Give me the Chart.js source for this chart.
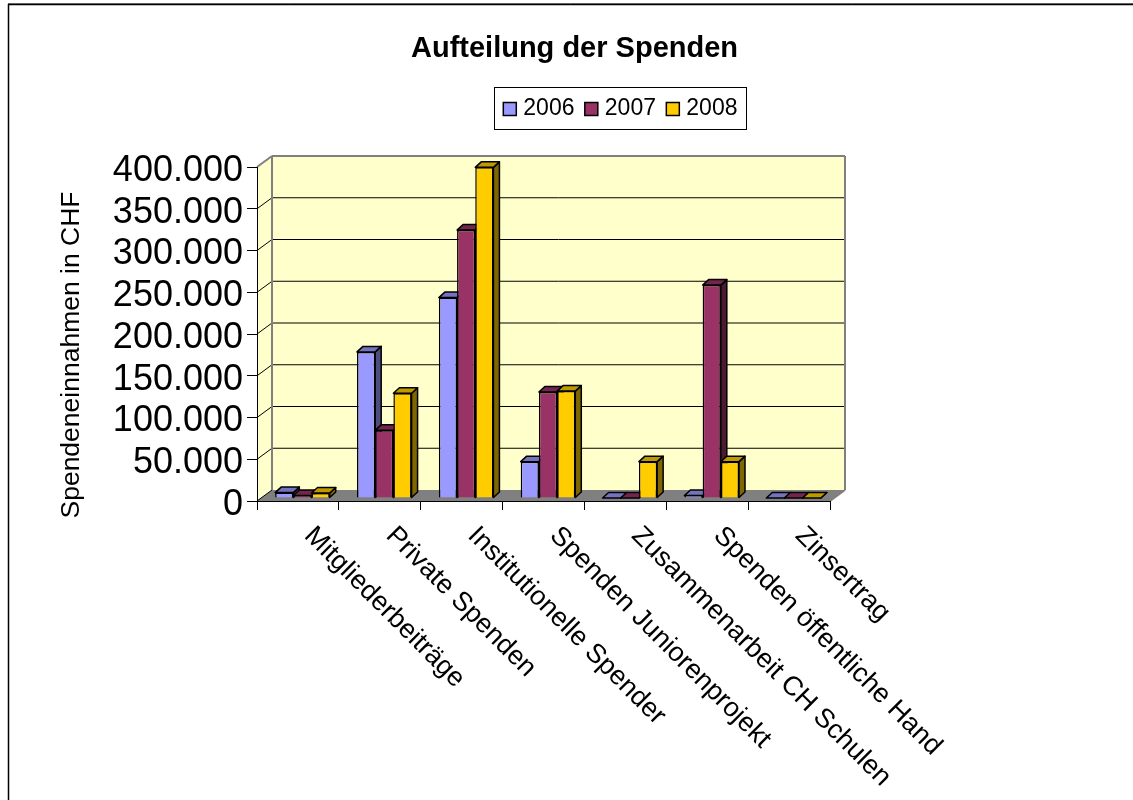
<!DOCTYPE html>
<html>
<head>
<meta charset="utf-8">
<title>Aufteilung der Spenden</title>
<script src="https://cdn.jsdelivr.net/npm/chart.js@4/dist/chart.umd.min.js"></script>
<style>
  html, body { margin: 0; padding: 0; background: #fff; }
  canvas { display: block; }
</style>
</head>
<body>
<canvas id="barChart" width="1133" height="800"></canvas>
<script>
const categories = [
  "Mitgliederbeiträge",
  "Private Spenden",
  "Institutionelle Spender",
  "Spenden Juniorenprojekt",
  "Zusammenarbeit CH Schulen",
  "Spenden öffentliche Hand",
  "Zinsertrag"
];
const values2006 = [6500, 175000, 240000, 43500, 0, 3000, 0];
const values2007 = [3000, 81000, 321000, 127000, 0, 255000, 0];
const values2008 = [6000, 125500, 396000, 128000, 43500, 43500, 0];
const yTickLabels = ["0", "50.000", "100.000", "150.000", "200.000", "250.000", "300.000", "350.000", "400.000"];

const FONT = "'Liberation Sans', Arial, sans-serif";

// colours of the 3d faces, same order as the datasets
const topColors = ["#7373BF", "#73264D", "#BF9900"];
const sideColors = ["#4D4D80", "#4D1A33", "#806600"];

// how far the back wall sits from the front edge of the floor
const WALL_DX = 15;
const WALL_DY = -11;
// bars stand a little inside the floor
const BAR_SHIFT_X = 4.5;
const BAR_SHIFT_Y = -3;
const BAR_DX = 6;
const BAR_DY = -5.5;

function line(ctx, x1, y1, x2, y2, color, width) {
  ctx.beginPath();
  ctx.moveTo(x1, y1);
  ctx.lineTo(x2, y2);
  ctx.strokeStyle = color;
  ctx.lineWidth = width;
  ctx.stroke();
}

function poly(ctx, points, fill, stroke, width) {
  ctx.beginPath();
  points.forEach((p, i) => (i === 0 ? ctx.moveTo(p[0], p[1]) : ctx.lineTo(p[0], p[1])));
  ctx.closePath();
  ctx.fillStyle = fill;
  ctx.fill();
  if (stroke) {
    ctx.strokeStyle = stroke;
    ctx.lineWidth = width;
    ctx.lineJoin = "round";
    ctx.stroke();
  }
}

function rotatedText(ctx, text, x, y, degrees, font, align) {
  ctx.save();
  ctx.translate(x, y);
  ctx.rotate((degrees * Math.PI) / 180);
  ctx.font = font;
  ctx.fillStyle = "#000";
  ctx.textAlign = align;
  ctx.textBaseline = "middle";
  ctx.fillText(text, 0, 0);
  ctx.restore();
}

const walls3d = {
  id: "walls3d",
  beforeDraw(chart) {
    const ctx = chart.ctx;
    const { left, right, top, bottom } = chart.chartArea;
    const yScale = chart.scales.y;

    // title and legend are not centred on the page in the original
    chart.titleBlock.left = 16;
    chart.titleBlock.right = 1133;
    chart.legend.left = 492.95;
    chart.legend.right = 1133;
    chart.legend.top = 82.65;

    ctx.save();
    // sheet frame, only top and left
    line(ctx, 8, 3.5, 1133, 3.5, "#808080", 1);
    line(ctx, 8, 4.5, 1133, 4.5, "#000", 1.5);
    line(ctx, 8.5, 4, 8.5, 800, "#000", 1.5);

    // legend frame
    ctx.strokeStyle = "#000";
    ctx.lineWidth = 1;
    ctx.strokeRect(494.5, 87.5, 252, 42);

    // back wall, side wall, floor
    const bx = WALL_DX, by = WALL_DY;
    poly(ctx, [[left + bx, top + by], [right + bx, top + by], [right + bx, bottom + by], [left + bx, bottom + by]], "#FFFFCC");
    poly(ctx, [[left, top], [left + bx, top + by], [left + bx, bottom + by], [left, bottom]], "#FFFFCC");
    poly(ctx, [[left, bottom], [left + bx, bottom + by], [right + bx, bottom + by], [right, bottom]], "#808080");

    // gridlines on both walls
    yScale.ticks.forEach((tick) => {
      const y = yScale.getPixelForValue(tick.value);
      if (tick.value > 0 && tick.value < yScale.max) {
        line(ctx, left + bx, y + by, right + bx, y + by, "#000", 1);
        line(ctx, left, y, left + bx, y + by, "#000", 1);
      }
    });
    line(ctx, left, bottom, left + bx, bottom + by, "#000", 1);

    // wall edges
    line(ctx, left, top, left + bx, top + by, "#808080", 2);
    line(ctx, left + bx, top + by, right + bx, top + by, "#808080", 2);
    line(ctx, left + bx, top + by, left + bx, bottom + by, "#808080", 2);
    line(ctx, right + bx, top + by, right + bx, bottom + by, "#808080", 2);
    line(ctx, right + bx, bottom + by, right, bottom, "#808080", 2);
    ctx.restore();
  },
  beforeDatasetsDraw(chart) {
    // paint left to right so each bar covers the side of the one before it
    const ctx = chart.ctx;
    ctx.save();
    ctx.translate(BAR_SHIFT_X, BAR_SHIFT_Y);
    chart.getSortedVisibleDatasetMetas().forEach((meta) => {
      meta.data.forEach((bar) => {
        const props = bar.getProps(["x", "y", "base", "width"], true);
        const l = props.x - props.width / 2;
        const r = props.x + props.width / 2;
        poly(ctx, [[r, props.y], [r + BAR_DX, props.y + BAR_DY], [r + BAR_DX, props.base + BAR_DY], [r, props.base]], sideColors[meta.index], "#000", 1.5);
        poly(ctx, [[l, props.y], [l + BAR_DX, props.y + BAR_DY], [r + BAR_DX, props.y + BAR_DY], [r, props.y]], topColors[meta.index], "#000", 1.5);
      });
      meta.controller.draw();
    });
    ctx.restore();
    return false;
  },
  afterDraw(chart) {
    const ctx = chart.ctx;
    const xScale = chart.scales.x;
    rotatedText(ctx, "Spendeneinnahmen in CHF", 72, 355, -90, "26.5px " + FONT, "center");
    categories.forEach((name, i) => {
      rotatedText(ctx, name, xScale.getPixelForValue(i) + 10.5, 531.5, 45, "27px " + FONT, "left");
    });
  }
};

const dataset = (label, data, color) => ({
  label,
  data,
  backgroundColor: color,
  borderColor: "#000",
  borderWidth: 1.5,
  inflateAmount: 0
});

new Chart(document.getElementById("barChart"), {
  type: "bar",
  data: {
    labels: categories,
    datasets: [
      dataset("2006", values2006, "#9999FF"),
      dataset("2007", values2007, "#993366"),
      dataset("2008", values2008, "#FFCC00")
    ]
  },
  plugins: [walls3d],
  options: {
    responsive: false,
    animation: false,
    layout: { padding: { left: 0, top: 0, right: 303, bottom: 0 } },
    barPercentage: 1,
    categoryPercentage: 2 / 3,
    plugins: {
      tooltip: { enabled: false },
      title: {
        display: true,
        text: "Aufteilung der Spenden",
        color: "#000",
        font: { family: FONT, size: 29, weight: "bold" },
        padding: { top: 31.6, bottom: 52.75 }
      },
      legend: {
        display: true,
        align: "start",
        labels: {
          color: "#000",
          font: { family: FONT, size: 23 },
          usePointStyle: true,
          pointStyle: "rect",
          boxWidth: 4,
          boxHeight: 13,
          padding: 14.85
        }
      }
    },
    scales: {
      x: {
        afterFit(scale) { scale.height = 299; },
        grid: { drawOnChartArea: false, drawTicks: true, tickLength: 9, color: "#000" },
        border: { color: "#000", width: 1 },
        ticks: { display: false }
      },
      y: {
        min: 0,
        max: 400000,
        afterFit(scale) { scale.width = 257; },
        grid: { drawOnChartArea: false, drawTicks: true, tickLength: 10, color: "#000" },
        border: { color: "#000", width: 1 },
        ticks: {
          stepSize: 50000,
          autoSkip: false,
          padding: 4,
          labelOffset: 4,
          color: "#000",
          font: { family: FONT, size: 36, lineHeight: 1 },
          callback: (value, index) => yTickLabels[index]
        }
      }
    }
  }
});
</script>
</body>
</html>
